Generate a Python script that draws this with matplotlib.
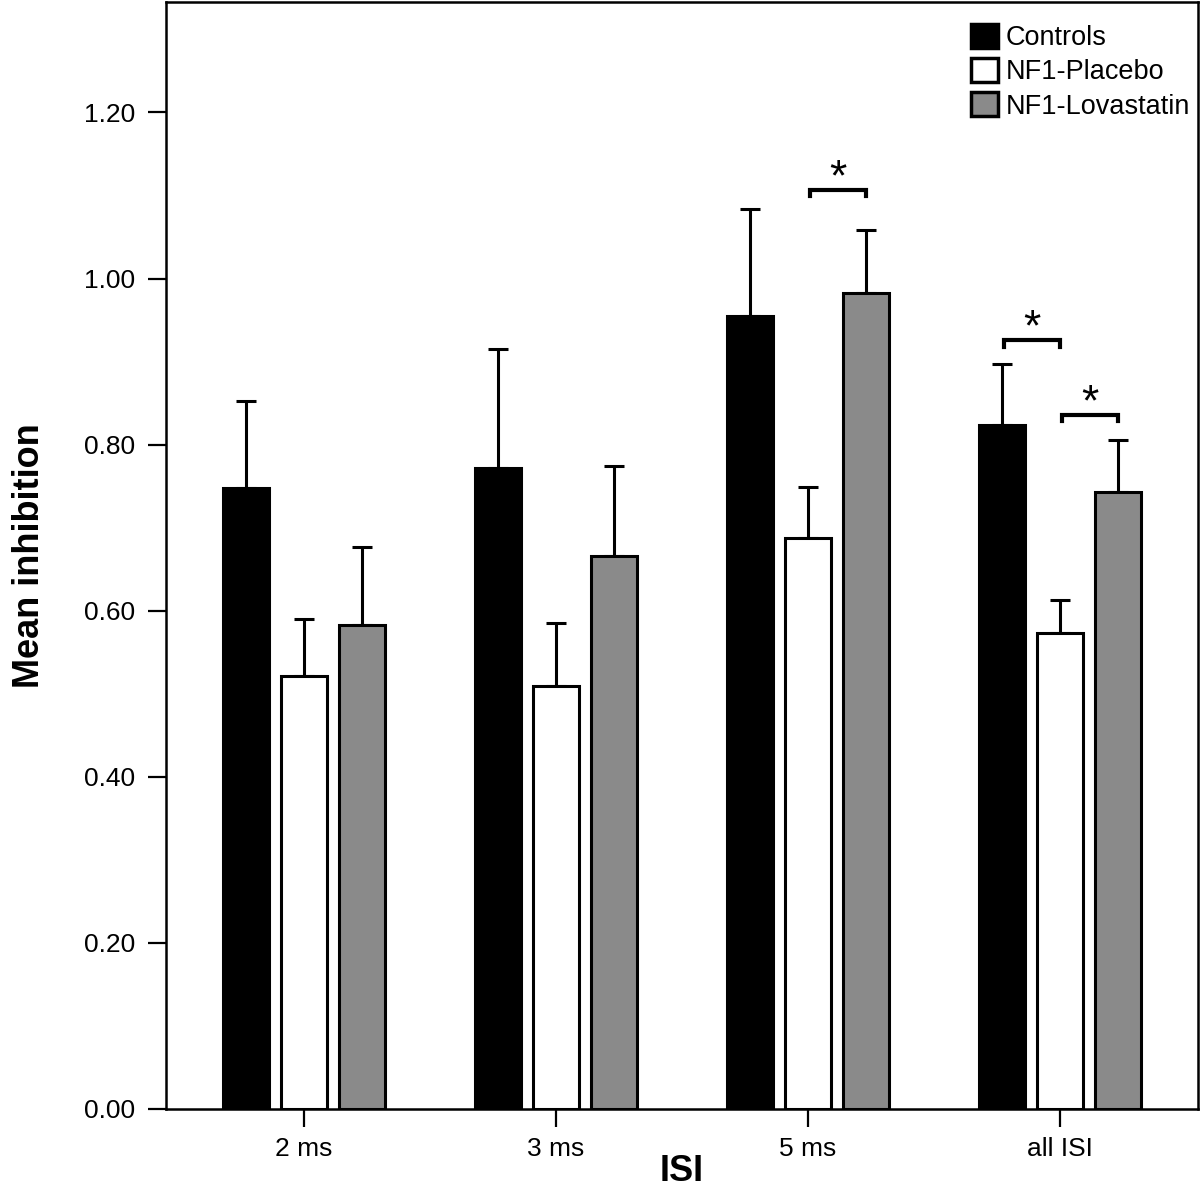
import matplotlib
matplotlib.use("Agg")
import matplotlib.pyplot as plt
import numpy as np

plt.rcParams['font.family'] = ['Liberation Sans', 'DejaVu Sans']

categories = ["2 ms", "3 ms", "5 ms", "all ISI"]
series_names = ["Controls", "NF1-Placebo", "NF1-Lovastatin"]
controls = [0.748, 0.772, 0.955, 0.824]
controls_err = [0.104, 0.143, 0.129, 0.073]
placebo = [0.521, 0.509, 0.688, 0.573]
placebo_err = [0.069, 0.076, 0.061, 0.040]
lovastatin = [0.583, 0.666, 0.983, 0.743]
lovastatin_err = [0.094, 0.108, 0.076, 0.062]
yticks = [0.0, 0.2, 0.4, 0.6, 0.8, 1.0, 1.2]
ytick_labels = ["0.00", "0.20", "0.40", "0.60", "0.80", "1.00", "1.20"]
# significance brackets: (category index, series i, series j, bracket height)
brackets = [(2, 1, 2, 1.107), (3, 0, 1, 0.926), (3, 1, 2, 0.836)]

colors = ["black", "white", "#8a8a8a"]
values = [controls, placebo, lovastatin]
errors = [controls_err, placebo_err, lovastatin_err]

fig = plt.figure(figsize=(12, 11.9), dpi=100)
ax = fig.add_axes([0.1383, 0.0681, 0.86, 0.9302])

x = np.arange(len(categories))
width = 0.183
offset = 0.23
for k in range(3):
    xs = x + (k - 1) * offset
    ax.bar(xs, values[k], width=width, color=colors[k], edgecolor="black",
           linewidth=2.2, label=series_names[k], zorder=3)
    ax.errorbar(xs, values[k], yerr=[np.zeros(len(xs)), errors[k]], fmt="none",
                ecolor="black", elinewidth=2.2, capsize=7, capthick=2.2, zorder=2)

for ci, si, sj, h in brackets:
    x1 = x[ci] + (si - 1) * offset + 0.01
    x2 = x[ci] + (sj - 1) * offset
    ax.plot([x1, x1, x2, x2], [h - 0.008, h, h, h - 0.008], color="black",
            linewidth=3, solid_joinstyle="miter", zorder=4)
    ax.text((x1 + x2) / 2, h - 0.001, "*", ha="center", va="baseline",
            fontsize=32, color="black")

ax.set_xlim(-0.548, 3.548)
ax.set_ylim(0, 1.333)
ax.set_xticks(x)
ax.set_xticklabels(categories, fontsize=19)
ax.set_yticks(yticks)
ax.set_yticklabels(ytick_labels, fontsize=19)
ax.tick_params(axis="both", direction="out", length=13, width=1.6)
ax.tick_params(axis="y", pad=9)
ax.tick_params(axis="x", pad=7)
for s in ax.spines.values():
    s.set_linewidth(1.8)

ax.set_ylabel("Mean inhibition", fontsize=26, fontweight="bold", labelpad=27)
ax.set_xlabel("ISI", fontsize=26, fontweight="bold", labelpad=-5)

leg = ax.legend(loc="upper right", bbox_to_anchor=(1.003, 0.99), frameon=False,
                fontsize=19.5, handlelength=1.0, handleheight=1.0,
                handletextpad=0.3, labelspacing=0.25, borderpad=0.3,
                borderaxespad=0.1)
for p in leg.get_patches():
    p.set_linewidth(2.5)

fig.savefig("out.png", dpi=100)
